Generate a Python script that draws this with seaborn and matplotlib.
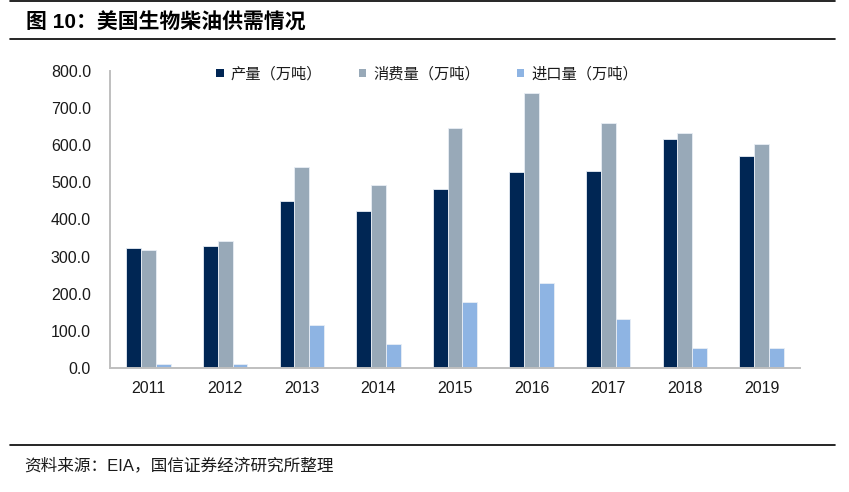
import matplotlib
matplotlib.use('Agg')
import matplotlib.pyplot as plt
import seaborn as sns
import pandas as pd
from matplotlib.patches import Patch
from matplotlib.lines import Line2D

# data
years = ['2011', '2012', '2013', '2014', '2015', '2016', '2017', '2018', '2019']
production = [324, 328, 450, 424, 483, 527, 530, 616, 571]
consumption = [317, 342, 541, 492, 646, 740, 659, 633, 602]
imports = [12, 12, 115, 64, 177, 229, 132, 55, 55]
series_names = ['产量（万吨）', '消费量（万吨）', '进口量（万吨）']
colors = ['#002654', '#98A9B8', '#8EB4E3']
y_ticks = [0, 100, 200, 300, 400, 500, 600, 700, 800]

df = pd.DataFrame({
    'year': years * 3,
    'value': production + consumption + imports,
    'series': [series_names[0]] * 9 + [series_names[1]] * 9 + [series_names[2]] * 9,
})

sns.set_style('white')
plt.rcParams['font.family'] = ['Liberation Sans', 'Noto Sans CJK SC', 'DejaVu Sans']
text_color = '#1a1a1a'

fig = plt.figure(figsize=(8.49, 4.92), dpi=100)
ax = fig.add_axes([0.130, 0.252, 0.812, 0.604])

sns.barplot(data=df, x='year', y='value', hue='series', order=years,
            hue_order=series_names, palette=colors, width=0.58, saturation=1,
            edgecolor='#e8eef5', linewidth=0.6, ax=ax, legend=False)

ax.set_ylim(0, 800)
ax.set_xlim(-0.5, len(years) - 0.5)
ax.set_yticks(y_ticks)
ax.set_yticklabels([f'{v:.1f}' for v in y_ticks], fontsize=11.5, color=text_color)
for lab in ax.get_xticklabels():
    lab.set_fontsize(11.5)
    lab.set_color(text_color)
ax.set_xlabel('')
ax.set_ylabel('')
ax.tick_params(axis='x', which='major', length=0, pad=9)
ax.set_xticks([i - 0.5 for i in range(len(years) + 1)], minor=True)
ax.tick_params(axis='x', which='minor', length=4, color='#bfbfbf', width=1.2, direction='out')
ax.tick_params(axis='y', length=3, color='#bfbfbf', width=1.2, direction='out', pad=11)

for s in ['top', 'right']:
    ax.spines[s].set_visible(False)
for s in ['left', 'bottom']:
    ax.spines[s].set_color('#bfbfbf')
    ax.spines[s].set_linewidth(1.4)

handles = [Patch(facecolor=c, edgecolor='none') for c in colors]
fig.legend(handles, series_names, loc='center', bbox_to_anchor=(0.503, 0.850),
           ncol=3, frameon=False, handlelength=0.5, handleheight=0.5,
           handletextpad=0.45, columnspacing=2.4, labelcolor=text_color,
           prop={'family': ['Noto Sans CJK SC'], 'size': 11})

# title, rules and source line
fig.text(0.031, 0.953, '图 10：美国生物柴油供需情况', fontsize=15, fontweight='bold',
         va='center', ha='left', color='black')
fig.add_artist(Line2D([0.012, 0.984], [0.998, 0.998], color='black', linewidth=1.2))
fig.add_artist(Line2D([0.012, 0.984], [0.921, 0.921], color='black', linewidth=1.2))
fig.add_artist(Line2D([0.012, 0.984], [0.096, 0.096], color='black', linewidth=1.2))
fig.text(0.029, 0.055, '资料来源：EIA，国信证券经济研究所整理', fontsize=12,
         va='center', ha='left', color=text_color)

fig.savefig('out.png', dpi=100)
